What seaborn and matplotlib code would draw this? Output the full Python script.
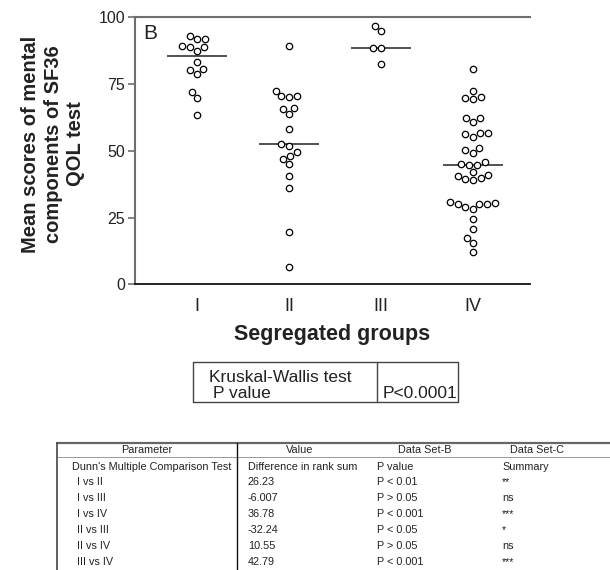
import numpy as np
import pandas as pd
import matplotlib
matplotlib.use("Agg")
import matplotlib.pyplot as plt
from matplotlib.lines import Line2D
import seaborn as sns

# ---------------- data ----------------
groups = ["I", "II", "III", "IV"]
group_I = [91.9, 91.9, 93.0, 88.8, 87.3, 88.8, 89.2, 83.4, 80.5, 78.7, 80.3,
           72.0, 69.7, 63.3]
group_II = [89.2, 70.4, 70.0, 70.4, 72.5, 65.8, 63.9, 66.0, 58.0, 51.9, 52.5,
            48.2, 49.6, 46.8, 45.1, 40.6, 36.0, 19.6, 6.4]
group_III = [95.0, 96.7, 88.4, 88.4, 82.5]
group_IV = [80.5, 72.5, 69.6, 69.4, 70.0, 62.2, 60.8, 62.2, 56.8, 56.2, 55.2,
            56.8, 51.0, 49.3, 50.2, 44.6, 45.8, 44.6, 44.9, 42.2, 40.4, 39.3,
            39.2, 39.7, 40.9, 30.3, 30.2, 28.3, 28.9, 30.1, 30.2, 30.7, 24.5,
            20.6, 17.2, 15.4, 12.2]
y_ticks = [0, 25, 50, 75, 100]

kw_rows = [["Kruskal-Wallis test", ""], ["P value", "P<0.0001"]]

dunn_header = ["Parameter", "Value", "Data Set-B", "Data Set-C"]
dunn_sub = ["Dunn's Multiple Comparison Test", "Difference in rank sum",
            "P value", "Summary"]
dunn_pairs = ["I vs II", "I vs III", "I vs IV", "II vs III", "II vs IV",
              "III vs IV"]
dunn_diff = ["26.23", "-6.007", "36.78", "-32.24", "10.55", "42.79"]
dunn_p = ["P < 0.01", "P > 0.05", "P < 0.001", "P < 0.05", "P > 0.05",
          "P < 0.001"]
dunn_summary = ["**", "ns", "***", "*", "ns", "***"]

values = group_I + group_II + group_III + group_IV
labels = (["I"] * len(group_I) + ["II"] * len(group_II)
          + ["III"] * len(group_III) + ["IV"] * len(group_IV))
df = pd.DataFrame({"group": labels, "score": values})

# ---------------- style ----------------
sns.set_style("ticks")
plt.rcParams["font.family"] = ["Liberation Sans", "DejaVu Sans"]
TXT = "#222222"
GRAY = "#6e6e6e"

W, H = 610, 570
fig = plt.figure(figsize=(W / 100, H / 100), dpi=100)


def fx(x):
    return x / W


def fy(y):
    return 1 - y / H


ax = fig.add_axes([fx(135), fy(284.3), (530 - 135) / W, (284.3 - 17.3) / H])

sns.swarmplot(data=df, x="group", y="score", order=groups, ax=ax,
              size=4.6, color="white", edgecolor="black", linewidth=0.9)
sns.boxplot(data=df, x="group", y="score", order=groups, ax=ax,
            width=0.66, fill=False, color="black", showcaps=False,
            showbox=False, showfliers=False, whis=0,
            whiskerprops={"visible": False},
            medianprops={"color": "#333333", "linewidth": 1.2})

ax.set_xlim(-0.674, 3.62)
ax.set_ylim(0, 100)
ax.set_yticks(y_ticks)
ax.set_yticklabels([str(t) for t in y_ticks])
ax.tick_params(axis="y", length=5, width=1.2, color=GRAY, labelsize=11.5,
               labelcolor=TXT, pad=2)
ax.tick_params(axis="x", length=0, labelsize=13, labelcolor=TXT, pad=10)
ax.spines["right"].set_visible(False)
ax.spines["top"].set_color(GRAY)
ax.spines["top"].set_linewidth(1.5)
ax.spines["left"].set_color(GRAY)
ax.spines["left"].set_linewidth(1.5)
ax.spines["bottom"].set_color("#111111")
ax.spines["bottom"].set_linewidth(1.3)

ax.set_xlabel("Segregated groups", fontsize=15.5, fontweight="bold",
              color=TXT, labelpad=6)
ax.set_ylabel("Mean scores of mental\ncomponents of SF36\nQOL test",
              fontsize=14.5, fontweight="bold", color=TXT, linespacing=1.22)
ax.yaxis.set_label_coords(-(135 - 85) / 395, 0.525)
ax.text(0.02, 0.975, "B", transform=ax.transAxes, fontsize=15, color=TXT,
        ha="left", va="top")


# ---------------- tables ----------------
def hline(y, x0, x1, lw=1.0, color="black"):
    fig.add_artist(Line2D([fx(x0), fx(x1)], [fy(y), fy(y)], lw=lw,
                          color=color, transform=fig.transFigure))


def vline(x, y0, y1, lw=1.0, color="black"):
    fig.add_artist(Line2D([fx(x), fx(x)], [fy(y0), fy(y1)], lw=lw,
                          color=color, transform=fig.transFigure))


# Kruskal-Wallis box
hline(362, 193, 458, lw=1.0, color="#444444")
hline(402, 193, 458, lw=1.0, color="#444444")
vline(193, 362, 402, lw=1.0, color="#444444")
vline(458, 362, 402, lw=1.0, color="#444444")
vline(377, 362, 402, lw=1.0, color="#444444")
fig.text(fx(209), fy(377), kw_rows[0][0], fontsize=12.5, color=TXT,
         ha="left", va="center")
fig.text(fx(213), fy(393.5), kw_rows[1][0], fontsize=12.5, color=TXT,
         ha="left", va="center")
fig.text(fx(383), fy(393.5), kw_rows[1][1], fontsize=12.5, color=TXT,
         ha="left", va="center")

# Dunn's table
hline(443, 57, 610, lw=1.6, color="#666666")
hline(457, 57, 610, lw=0.6, color="#888888")
vline(57, 443, 570, lw=1.2, color="#444444")
vline(237, 443, 570, lw=1.0, color="#111111")

fs_t = 7.8
head_centers = [147, 300, 425, 537]
for cx, t in zip(head_centers, dunn_header):
    fig.text(fx(cx), fy(450), t, fontsize=fs_t, color=TXT, ha="center",
             va="center")

col_x = [72, 248, 377, 502]
for cx, t in zip(col_x, dunn_sub):
    fig.text(fx(cx), fy(466.5), t, fontsize=fs_t, color=TXT, ha="left",
             va="center")

row_y = [482, 498, 514, 530, 546, 562]
for ry, a, b, c, d in zip(row_y, dunn_pairs, dunn_diff, dunn_p, dunn_summary):
    fig.text(fx(77), fy(ry), a, fontsize=fs_t, color=TXT, ha="left",
             va="center")
    fig.text(fx(248), fy(ry), b, fontsize=fs_t, color=TXT, ha="left",
             va="center")
    fig.text(fx(377), fy(ry), c, fontsize=fs_t, color=TXT, ha="left",
             va="center")
    fig.text(fx(502), fy(ry), d, fontsize=fs_t, color=TXT, ha="left",
             va="center")

fig.savefig("out.png", dpi=100)
